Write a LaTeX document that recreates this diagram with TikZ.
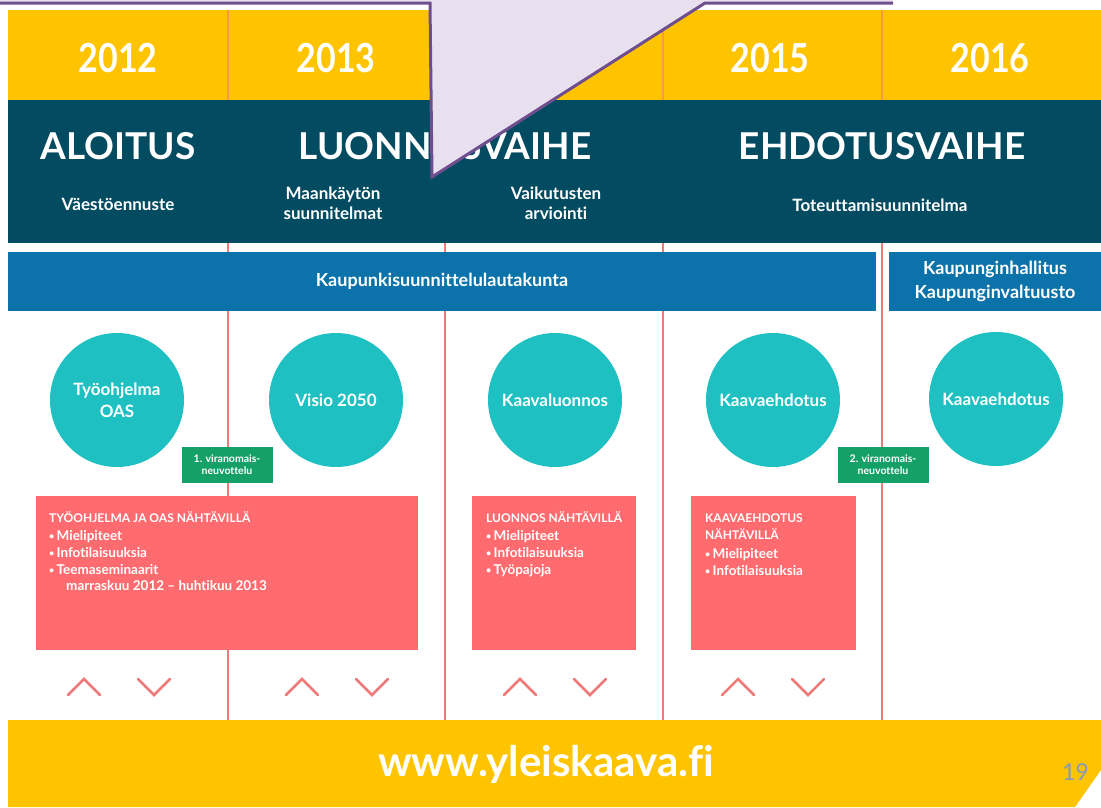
\documentclass[tikz,border=0pt]{standalone}
\usepackage{fontspec}
\setmainfont{Lato}[Ligatures=NoCommon]
\newfontfamily\yearfont{Lato}[FakeStretch=0.85]
\newfontfamily\pagenofont{Carlito}

\definecolor{planyellow}{HTML}{FFC400}
\definecolor{phasedark}{HTML}{034B60}
\definecolor{boardblue}{HTML}{0B73A9}
\definecolor{stepteal}{HTML}{1EC0C2}
\definecolor{meetgreen}{HTML}{14A067}
\definecolor{showsalmon}{HTML}{FF6B6F}
\definecolor{divline}{HTML}{F07A7A}
\definecolor{divyellow}{HTML}{F59A4A}
\definecolor{calloutline}{HTML}{6E4E8E}
\definecolor{calloutfill}{HTML}{E8E0EE}
\definecolor{pagegray}{HTML}{8A9AB5}

\newcommand\showhead{\fontsize{12}{17}\selectfont}
\newcommand\showbullet{\raisebox{1pt}{\fontsize{9}{9}\selectfont•}\,}

\tikzset{
  year/.style={text=white, font=\yearfont\bfseries\fontsize{40}{40}\selectfont},
  phase/.style={text=white, font=\bfseries\fontsize{37}{37}\selectfont},
  task/.style={text=white, align=center, font=\bfseries\fontsize{17}{20}\selectfont},
  board/.style={fill=boardblue, text=white, align=center, inner sep=0pt,
    minimum height=59, font=\bfseries\fontsize{18}{24}\selectfont},
  stepcircle/.style={circle, fill=stepteal, minimum size=134, inner sep=0pt,
    text=white, align=center, font=\bfseries\fontsize{17}{22}\selectfont},
  meeting/.style={fill=meetgreen, text=white, align=center, inner sep=0pt,
    minimum width=91, minimum height=36, font=\bfseries\fontsize{10.5}{12}\selectfont},
  showbox/.style={fill=showsalmon, anchor=north west, inner sep=0pt, minimum height=154},
  showtext/.style={text=white, anchor=north west, align=left, inner sep=0pt,
    font=\bfseries\fontsize{13.5}{16.7}\selectfont},
  chevron/.style={divline, line width=2.5, line cap=round, line join=miter},
}

\begin{document}
\begin{tikzpicture}[x=1pt, y=-1pt]
  \useasboundingbox[fill=white] (0,0) rectangle (1101,807);

  % year band and column lines
  \fill[planyellow] (8,10) rectangle (1101,100);
  \foreach \x in {228,445,663,882} {
    \draw[divline, line width=2.5] (\x,100) -- (\x,720);
    \draw[divyellow, line width=2] (\x,10) -- (\x,100);
  }
  \foreach \x/\yr in {118/2012, 336/2013, 554/2014, 770/2015, 990/2016}
    \node[year] (y\yr) at (\x,58) {\yr};

  % phases
  \fill[phasedark] (8,100) rectangle (1101,243);
  \node[phase] (aloitus) at (118,146) {ALOITUS};
  \node[phase] (luonnos) at (445,146) {LUONNOSVAIHE};
  \node[phase] (ehdotus) at (882,146) {EHDOTUSVAIHE};
  \node[task] (vaesto) at (118,204) {Väestöennuste};
  \node[task] (maank) at (333,203) {Maankäytön\\suunnitelmat};
  \node[task] (vaik) at (556,203) {Vaikutusten\\arviointi};
  \node[task] (toteutus) at (880,205) {Toteuttamisuunnitelma};

  % boards
  \node[board, minimum width=868] (lautakunta) at (442,281) {Kaupunkisuunnittelulautakunta};
  \node[board, minimum width=212] (valtuusto) at (995,281) {Kaupunginhallitus\\Kaupunginvaltuusto};

  % steps
  \node[stepcircle] (tyoohjelma) at (117,400) {Työohjelma\\OAS};
  \node[stepcircle] (visio) at (336,400) {Visio 2050};
  \node[stepcircle] (kaavaluonnos) at (555,400) {Kaavaluonnos};
  \node[stepcircle] (kaavaehd) at (773,400) {Kaavaehdotus};
  \node[stepcircle] (kaavaehdb) at (996,399) {Kaavaehdotus};

  \node[meeting] (neuvA) at (227,465) {1. viranomais-\\neuvottelu};
  \node[meeting] (neuvB) at (883,465) {2. viranomais-\\neuvottelu};

  % public viewing
  \node[showbox, minimum width=382] (showA) at (36,496) {};
  \node[showbox, minimum width=164] (showB) at (472,496) {};
  \node[showbox, minimum width=165] (showC) at (691,496) {};
  \node[showtext] (showAtext) at ([shift={(13,15)}]showA.north west)
    {{\showhead TYÖOHJELMA JA OAS NÄHTÄVILLÄ}\\[2pt]
     \showbullet Mielipiteet\\ \showbullet Infotilaisuuksia\\ \showbullet Teemaseminaarit\\
     \hspace*{17pt}marraskuu 2012 – huhtikuu 2013};
  \node[showtext] (showBtext) at ([shift={(14,15)}]showB.north west)
    {{\showhead LUONNOS NÄHTÄVILLÄ}\\[2pt]
     \showbullet Mielipiteet\\ \showbullet Infotilaisuuksia\\ \showbullet Työpajoja};
  \node[showtext] (showCtext) at ([shift={(14,18)}]showC.north west)
    {{\showhead KAAVAEHDOTUS}\\{\showhead NÄHTÄVILLÄ}\\[2pt]
     \showbullet Mielipiteet\\ \showbullet Infotilaisuuksia};

  % feedback marks
  \foreach \cx in {118,336,554,772} {
    \draw[chevron] (\cx-50,695) -- (\cx-34,679) -- (\cx-18,695);
    \draw[chevron] (\cx+20,679) -- (\cx+36,695) -- (\cx+52,679);
  }

  % footer
  \fill[planyellow] (8,720) -- (1101,720) -- (1101,770) -- (1075,807) -- (8,807) -- cycle;
  \node[text=white, font=\bfseries\fontsize{42}{42}\selectfont] (www) at (546,764) {www.yleiskaava.fi};
  \node[text=pagegray, font=\pagenofont\fontsize{26}{26}\selectfont] (pageno) at (1075,772) {19};

  % callout
  \fill[calloutfill] (0,-5) rectangle (893,3);
  \filldraw[fill=calloutfill, draw=calloutline, line width=3, line join=miter]
    (0,3) -- (430,3) -- (432,177) -- (705,3) -- (893,3);
\end{tikzpicture}
\end{document}
